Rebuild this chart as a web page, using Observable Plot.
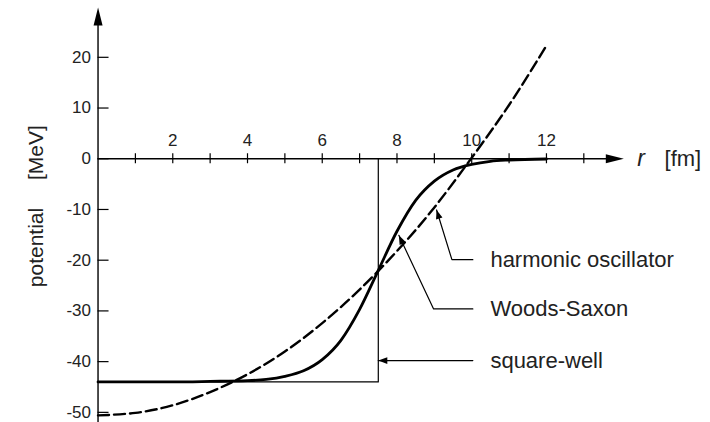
<!DOCTYPE html>
<html>
<head>
<meta charset="utf-8">
<script src="https://cdn.jsdelivr.net/npm/d3@7"></script>
<script src="https://cdn.jsdelivr.net/npm/@observablehq/plot@0.6"></script>
<style>
  html, body { margin: 0; padding: 0; background: #fff; }
  #chart svg { display: block; }
</style>
</head>
<body>
<div id="chart"></div>
<script>
// Nuclear mean-field potentials as a function of radius r (fm), in MeV.

// Harmonic oscillator (dashed curve)
const hoRadius = [0, 1, 2, 3, 4, 5, 6, 7, 8, 9, 10, 11, 12];
const hoPotential = [-50.6, -50.1, -48.6, -46.0, -42.5, -38.0, -32.4, -25.8, -18.2, -9.6, 0.2, 10.6, 22.3];

// Woods-Saxon (solid curve)
const wsRadius = [0, 1, 2, 3, 4, 4.5, 5, 5.5, 6, 6.5, 7, 7.5, 8, 8.5, 9, 9.5, 10, 10.5, 11, 12];
const wsPotential = [-44.0, -44.0, -44.0, -43.9, -43.75, -43.5, -42.9, -41.8, -39.6, -35.8, -29.7, -22.0, -14.3, -8.2, -4.4, -2.2, -1.1, -0.5, -0.25, -0.05];

// Square well (thin line): depth -44 MeV out to 7.5 fm
const swRadius = [0, 7.5, 7.5];
const swPotential = [-44, -44, 0];

// Axis ticks
const xTicks = [1, 2, 3, 4, 5, 6, 7, 8, 9, 10, 11, 12, 13];
const xTickLabels = [2, 4, 6, 8, 10, 12];
const yTicks = [-50, -40, -30, -20, -10, 0, 10, 20];

// Curve labels with their leader lines
const labelNames = ["harmonic oscillator", "Woods-Saxon", "square-well"];
const labelTipR = [9.06, 8.05, 7.5];
const labelTipV = [-10.1, -15.1, -39.8];
const labelBendR = [9.47, 8.98, 7.5];
const labelV = [-19.9, -29.6, -39.8];

// Frame geometry
const W = 710, H = 422;
const xDomain = [-2.61, 16.39];
const yDomain = [-52.0, 31.2];
const pxR = W / (xDomain[1] - xDomain[0]);
const pxV = H / (yDomain[1] - yDomain[0]);
const xAxisEnd = 14.07;   // r at the x-axis arrow tip
const yAxisEnd = 29.84;   // V at the y-axis arrow tip
const leaderEnd = 10.03;
const labelStart = 10.5;

// Filled arrowhead with its tip at the anchor point, pointing up before rotation
function arrowhead(widthRatio) {
  return {
    draw(context, size) {
      const r = Math.sqrt(size / Math.PI);
      const len = 2 * r, hw = widthRatio * r;
      context.moveTo(0, 0);
      context.lineTo(hw, len);
      context.lineTo(-hw, len);
      context.closePath();
    }
  };
}

const ho = hoRadius.map((r, i) => ({r, v: hoPotential[i]}));
const ws = wsRadius.map((r, i) => ({r, v: wsPotential[i]}));
const sw = swRadius.map((r, i) => ({r, v: swPotential[i]}));

const leaders = [];
const leaderHeads = [];
const labelRows = [];
labelNames.forEach((name, i) => {
  leaders.push({name, r: labelTipR[i], v: labelTipV[i]});
  leaders.push({name, r: labelBendR[i], v: labelV[i]});
  leaders.push({name, r: leaderEnd, v: labelV[i]});
  let dx = (labelTipR[i] - labelBendR[i]) * pxR;
  let dy = (labelTipV[i] - labelV[i]) * pxV;
  if (Math.abs(dx) < 1e-6 && Math.abs(dy) < 1e-6) {
    dx = (labelTipR[i] - leaderEnd) * pxR;
    dy = 0;
  }
  leaderHeads.push({r: labelTipR[i], v: labelTipV[i], angle: Math.atan2(dx, dy) * 180 / Math.PI});
  labelRows.push({name, r: labelStart, v: labelV[i]});
});

const axisHeads = [
  {r: 0, v: yAxisEnd, angle: 0},
  {r: xAxisEnd, v: 0, angle: 90}
];

const yTickLen = 11 / pxR;
const xTickHalf = 5 / pxV;
const ink = "#000";
const textInk = "#222";
const font = "Arial, 'Liberation Sans', Helvetica, sans-serif";

const chart = Plot.plot({
  width: W,
  height: H,
  margin: 0,
  x: {domain: xDomain, axis: null},
  y: {domain: yDomain, axis: null},
  style: {background: "#fff", fontFamily: font},
  marks: [
    // axes
    Plot.ruleY([0], {x1: 0, x2: xAxisEnd - 0.3, stroke: ink, strokeWidth: 1.4}),
    Plot.ruleX([0], {y1: yDomain[0], y2: yAxisEnd - 2, stroke: ink, strokeWidth: 1.4}),
    Plot.dot(axisHeads, {x: "r", y: "v", r: 9, rotate: "angle", symbol: arrowhead(0.5), fill: ink, stroke: "none"}),
    Plot.ruleX(xTicks, {x: d => d, y1: () => -xTickHalf, y2: () => xTickHalf, stroke: ink, strokeWidth: 1.2}),
    Plot.ruleY(yTicks, {y: d => d, x1: () => 0, x2: () => yTickLen, stroke: ink, strokeWidth: 1.2}),
    Plot.text(xTickLabels, {x: d => d, y: () => 0, text: d => String(d), dy: -18, fontSize: 17, fill: textInk}),
    Plot.text(yTicks, {x: () => 0, y: d => d, text: d => String(d), dx: -7, textAnchor: "end", fontSize: 17, fill: textInk}),
    // axis titles
    Plot.text(["r"], {x: () => 14.43, y: () => 0, text: d => d, textAnchor: "start", fontSize: 23, fontStyle: "italic", fill: textInk}),
    Plot.text(["[fm]"], {x: () => 15.16, y: () => 0, text: d => d, textAnchor: "start", fontSize: 22, fill: textInk}),
    Plot.text(["potential"], {x: () => -1.65, y: () => -17.5, text: d => d, rotate: -90, fontSize: 21, fill: textInk}),
    Plot.text(["[MeV]"], {x: () => -1.65, y: () => 1.2, text: d => d, rotate: -90, fontSize: 21, fill: textInk}),
    // potentials
    Plot.line(sw, {x: "r", y: "v", stroke: ink, strokeWidth: 1.2}),
    Plot.line(ws, {x: "r", y: "v", curve: "monotone-x", stroke: ink, strokeWidth: 2.8}),
    Plot.line(ho, {x: "r", y: "v", curve: "natural", stroke: ink, strokeWidth: 2.4, strokeDasharray: "11,5"}),
    // labels and leaders
    Plot.line(leaders, {x: "r", y: "v", z: "name", stroke: ink, strokeWidth: 1.2}),
    Plot.dot(leaderHeads, {x: "r", y: "v", r: 4.5, rotate: "angle", symbol: arrowhead(0.75), fill: ink, stroke: "none"}),
    Plot.text(labelRows, {x: "r", y: "v", text: "name", textAnchor: "start", fontSize: 22, fill: textInk})
  ]
});

document.getElementById("chart").appendChild(chart);
</script>
</body>
</html>
